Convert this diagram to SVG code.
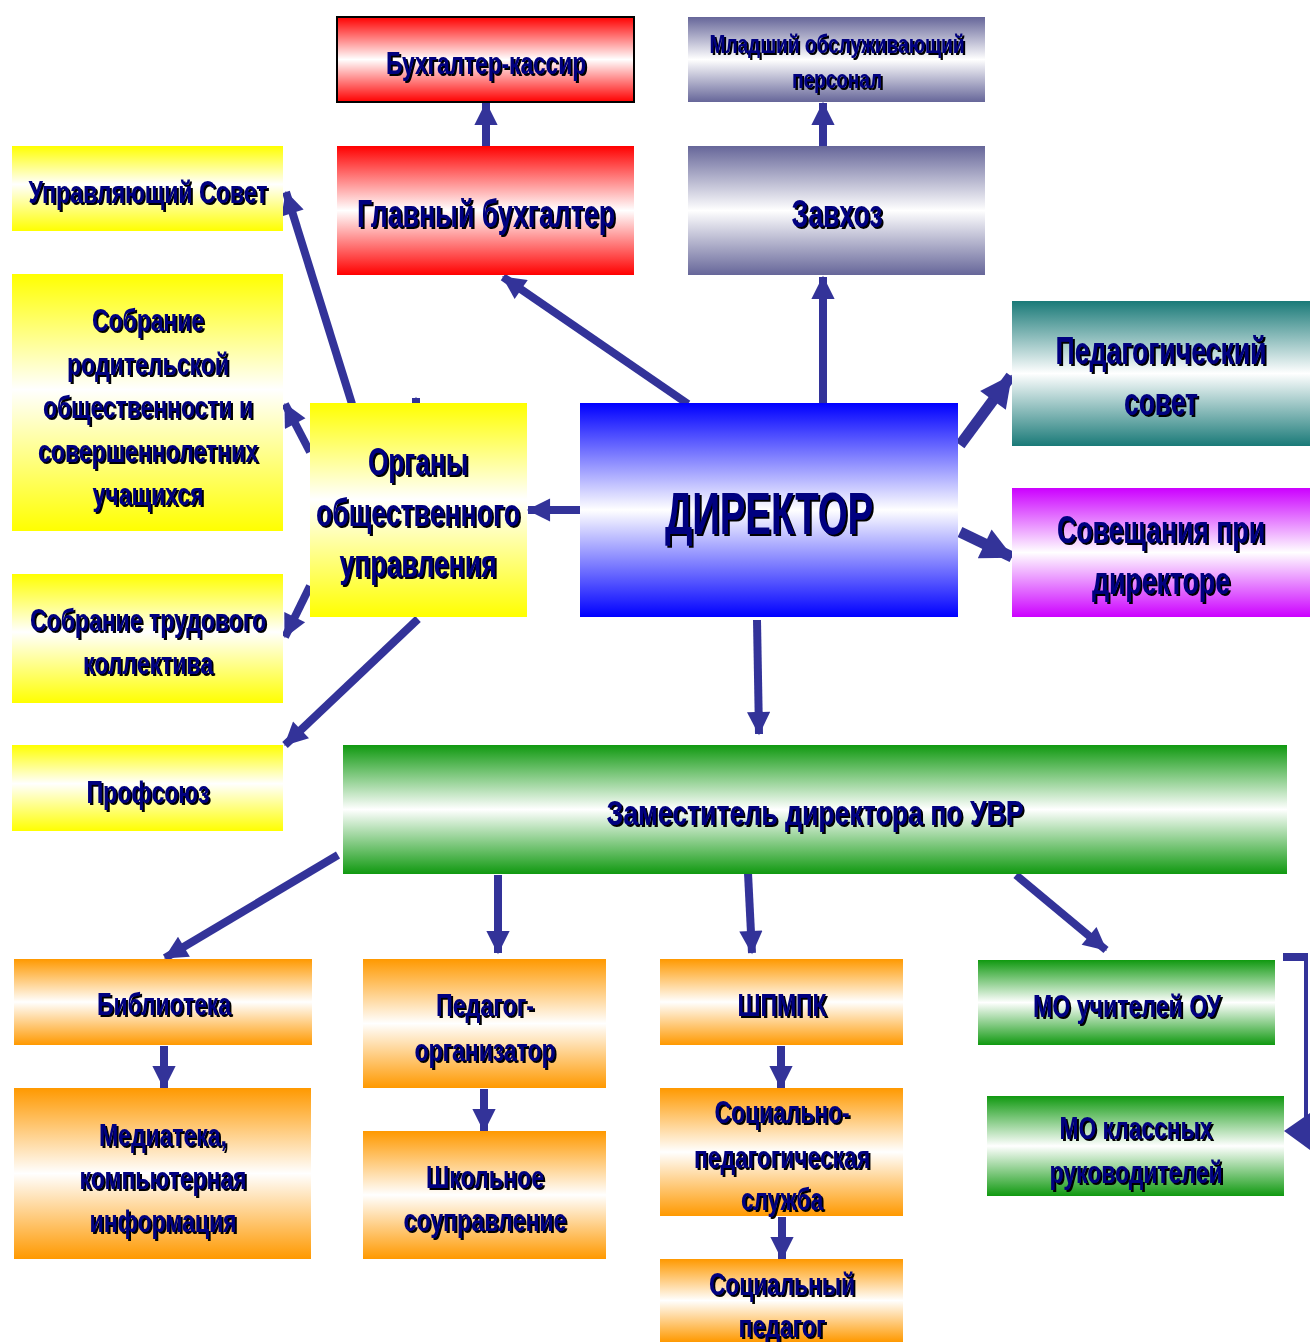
<svg xmlns="http://www.w3.org/2000/svg" width="1310" height="1342" viewBox="0 0 1310 1342">
<defs>
<style>
.t{font-family:"Liberation Sans Narrow","Liberation Sans",Arial,sans-serif;font-weight:bold;fill:#000080;text-anchor:middle;filter:url(#sh)}
.c{stroke:#333399;stroke-width:8;fill:none;marker-end:url(#ah)}
.w{stroke-width:11}
.h{fill:#333399}
</style>
<filter id="sh" x="-20%" y="-40%" width="140%" height="180%"><feDropShadow dx="2" dy="2" stdDeviation="0" flood-color="#000000" flood-opacity="1"/></filter>
<marker id="ah" viewBox="0 0 10 10" refX="9.5" refY="5" markerWidth="4.4" markerHeight="2.9" orient="auto" markerUnits="strokeWidth"><path d="M0,0 L10,5 L0,10 z" fill="#333399"/></marker>
<linearGradient id="gRed" x1="0" y1="0" x2="0" y2="1"><stop offset="0" stop-color="#ff0000"/><stop offset="0.5" stop-color="#ffffff"/><stop offset="1" stop-color="#ff0000"/></linearGradient>
<linearGradient id="gSlate" x1="0" y1="0" x2="0" y2="1"><stop offset="0" stop-color="#666699"/><stop offset="0.5" stop-color="#ffffff"/><stop offset="1" stop-color="#666699"/></linearGradient>
<linearGradient id="gYel" x1="0" y1="0" x2="0" y2="1"><stop offset="0" stop-color="#ffff00"/><stop offset="0.45" stop-color="#ffffff"/><stop offset="1" stop-color="#ffff00"/></linearGradient>
<linearGradient id="gBlue" x1="0" y1="0" x2="0" y2="1"><stop offset="0" stop-color="#0000ff"/><stop offset="0.5" stop-color="#ffffff"/><stop offset="1" stop-color="#0000ff"/></linearGradient>
<linearGradient id="gTeal" x1="0" y1="0" x2="0" y2="1"><stop offset="0" stop-color="#1a7a78"/><stop offset="0.5" stop-color="#ffffff"/><stop offset="1" stop-color="#1a7a78"/></linearGradient>
<linearGradient id="gMag" x1="0" y1="0" x2="0" y2="1"><stop offset="0" stop-color="#cc00ff"/><stop offset="0.5" stop-color="#ffffff"/><stop offset="1" stop-color="#cc00ff"/></linearGradient>
<linearGradient id="gGreen" x1="0" y1="0" x2="0" y2="1"><stop offset="0" stop-color="#109910"/><stop offset="0.5" stop-color="#ffffff"/><stop offset="1" stop-color="#109910"/></linearGradient>
<linearGradient id="gOr" x1="0" y1="0" x2="0" y2="1"><stop offset="0" stop-color="#ff9900"/><stop offset="0.5" stop-color="#ffffff"/><stop offset="1" stop-color="#ff9900"/></linearGradient>
</defs>
<rect width="1310" height="1342" fill="#ffffff"/>

<g id="connectors">
<line class="c" x1="486" y1="146" x2="486" y2="103"/>
<line class="c" x1="823" y1="146" x2="823" y2="103"/>
<line class="c" x1="688" y1="404" x2="503" y2="277"/>
<line class="c" x1="823" y1="403" x2="823" y2="277"/>
<line class="c w" x1="960" y1="445" x2="1011" y2="376"/>
<line class="c w" x1="960" y1="532" x2="1012" y2="557"/>
<line class="c" x1="580" y1="510" x2="528" y2="510"/>
<line class="c" x1="757" y1="620" x2="759" y2="734"/>
<line class="c" x1="416" y1="450" x2="416" y2="398"/>
<line class="c" x1="352" y1="404" x2="286" y2="192"/>
<line class="c" x1="310" y1="452" x2="285" y2="404"/>
<line class="c" x1="310" y1="586" x2="285" y2="637"/>
<line class="c" x1="418" y1="619" x2="285" y2="745"/>
<line class="c" x1="338" y1="855" x2="165" y2="958"/>
<line class="c" x1="498" y1="875" x2="498" y2="953"/>
<line class="c" x1="748" y1="873" x2="752" y2="953"/>
<line class="c" x1="1016" y1="875" x2="1106" y2="950"/>
<line class="c" x1="164" y1="1046" x2="164" y2="1088"/>
<line class="c" x1="484" y1="1089" x2="484" y2="1131"/>
<line class="c" x1="781" y1="1046" x2="781" y2="1088"/>
<line class="c" x1="782" y1="1217" x2="782" y2="1259"/>
<path d="M1283,957 H1306 V1131" stroke="#333399" stroke-width="4" fill="none"/>
<rect class="h" x="1283" y="953" width="25" height="8"/>
<path class="h" d="M1284,1131 L1310,1113 L1310,1150 z"/>
</g>

<g id="n-kassir"><rect x="337" y="17" width="297" height="85" fill="url(#gRed)" stroke="#000" stroke-width="2"/><text class="t" x="486" y="74" font-size="32" textLength="200" lengthAdjust="spacingAndGlyphs">Бухгалтер-кассир</text></g>
<g id="n-mladshiy"><rect x="688" y="17" width="297" height="85" fill="url(#gSlate)"/><text class="t" x="837" y="53" font-size="25" textLength="255" lengthAdjust="spacingAndGlyphs">Младший обслуживающий</text><text class="t" x="837" y="88" font-size="25" textLength="90" lengthAdjust="spacingAndGlyphs">персонал</text></g>
<g id="n-glavbuh"><rect x="337" y="146" width="297" height="129" fill="url(#gRed)"/><text class="t" x="486" y="227" font-size="38" textLength="258" lengthAdjust="spacingAndGlyphs">Главный бухгалтер</text></g>
<g id="n-zavhoz"><rect x="688" y="146" width="297" height="129" fill="url(#gSlate)"/><text class="t" x="837" y="227" font-size="38" textLength="91" lengthAdjust="spacingAndGlyphs">Завхоз</text></g>
<g id="n-upravsovet"><rect x="12" y="146" width="271" height="85" fill="url(#gYel)"/><text class="t" x="148" y="203" font-size="31" textLength="239" lengthAdjust="spacingAndGlyphs">Управляющий Совет</text></g>
<g id="n-sobranie-rod"><rect x="12" y="274" width="271" height="257" fill="url(#gYel)"/>
<text class="t" x="148" y="331" font-size="31" textLength="112" lengthAdjust="spacingAndGlyphs">Собрание</text>
<text class="t" x="148" y="375" font-size="31" textLength="162" lengthAdjust="spacingAndGlyphs">родительской</text>
<text class="t" x="148" y="418" font-size="31" textLength="210" lengthAdjust="spacingAndGlyphs">общественности и</text>
<text class="t" x="148" y="462" font-size="31" textLength="220" lengthAdjust="spacingAndGlyphs">совершеннолетних</text>
<text class="t" x="148" y="505" font-size="31" textLength="111" lengthAdjust="spacingAndGlyphs">учащихся</text></g>
<g id="n-organy"><rect x="310" y="403" width="217" height="214" fill="url(#gYel)"/>
<text class="t" x="418" y="475" font-size="38" textLength="100" lengthAdjust="spacingAndGlyphs">Органы</text>
<text class="t" x="418" y="526" font-size="38" textLength="204" lengthAdjust="spacingAndGlyphs">общественного</text>
<text class="t" x="418" y="577" font-size="38" textLength="157" lengthAdjust="spacingAndGlyphs">управления</text></g>
<g id="n-direktor"><rect x="580" y="403" width="378" height="214" fill="url(#gBlue)"/><text class="t" x="769" y="534" font-size="60" textLength="208" lengthAdjust="spacingAndGlyphs">ДИРЕКТОР</text></g>
<g id="n-pedsovet"><rect x="1012" y="301" width="298" height="145" fill="url(#gTeal)"/>
<text class="t" x="1161" y="364" font-size="38" textLength="211" lengthAdjust="spacingAndGlyphs">Педагогический</text>
<text class="t" x="1161" y="415" font-size="38" textLength="74" lengthAdjust="spacingAndGlyphs">совет</text></g>
<g id="n-soveshch"><rect x="1012" y="488" width="298" height="129" fill="url(#gMag)"/>
<text class="t" x="1161" y="543" font-size="38" textLength="208" lengthAdjust="spacingAndGlyphs">Совещания при</text>
<text class="t" x="1161" y="594" font-size="38" textLength="138" lengthAdjust="spacingAndGlyphs">директоре</text></g>
<g id="n-trud"><rect x="12" y="574" width="271" height="129" fill="url(#gYel)"/>
<text class="t" x="148" y="631" font-size="31" textLength="236" lengthAdjust="spacingAndGlyphs">Собрание трудового</text>
<text class="t" x="148" y="674" font-size="31" textLength="130" lengthAdjust="spacingAndGlyphs">коллектива</text></g>
<g id="n-profsoyuz"><rect x="12" y="745" width="271" height="86" fill="url(#gYel)"/><text class="t" x="148" y="803" font-size="31" textLength="123" lengthAdjust="spacingAndGlyphs">Профсоюз</text></g>
<g id="n-zam"><rect x="343" y="745" width="944" height="129" fill="url(#gGreen)"/><text class="t" x="815" y="825" font-size="35" textLength="417" lengthAdjust="spacingAndGlyphs">Заместитель директора по УВР</text></g>
<g id="n-biblioteka"><rect x="14" y="959" width="298" height="86" fill="url(#gOr)"/><text class="t" x="164" y="1015" font-size="31" textLength="134" lengthAdjust="spacingAndGlyphs">Библиотека</text></g>
<g id="n-mediateka"><rect x="14" y="1088" width="297" height="171" fill="url(#gOr)"/>
<text class="t" x="163" y="1146" font-size="31" textLength="128" lengthAdjust="spacingAndGlyphs">Медиатека,</text>
<text class="t" x="163" y="1189" font-size="31" textLength="167" lengthAdjust="spacingAndGlyphs">компьютерная</text>
<text class="t" x="163" y="1232" font-size="31" textLength="147" lengthAdjust="spacingAndGlyphs">информация</text></g>
<g id="n-pedorg"><rect x="363" y="959" width="243" height="129" fill="url(#gOr)"/>
<text class="t" x="485" y="1016" font-size="31" textLength="98" lengthAdjust="spacingAndGlyphs">Педагог-</text>
<text class="t" x="485" y="1061" font-size="31" textLength="141" lengthAdjust="spacingAndGlyphs">организатор</text></g>
<g id="n-shkolnoe"><rect x="363" y="1131" width="243" height="128" fill="url(#gOr)"/>
<text class="t" x="485" y="1188" font-size="31" textLength="118" lengthAdjust="spacingAndGlyphs">Школьное</text>
<text class="t" x="485" y="1231" font-size="31" textLength="163" lengthAdjust="spacingAndGlyphs">соуправление</text></g>
<g id="n-shpmpk"><rect x="660" y="959" width="243" height="86" fill="url(#gOr)"/><text class="t" x="782" y="1016" font-size="31" textLength="89" lengthAdjust="spacingAndGlyphs">ШПМПК</text></g>
<g id="n-socped-sl"><rect x="660" y="1088" width="243" height="128" fill="url(#gOr)"/>
<text class="t" x="782" y="1123" font-size="31" textLength="135" lengthAdjust="spacingAndGlyphs">Социально-</text>
<text class="t" x="782" y="1168" font-size="31" textLength="176" lengthAdjust="spacingAndGlyphs">педагогическая</text>
<text class="t" x="782" y="1210" font-size="31" textLength="82" lengthAdjust="spacingAndGlyphs">служба</text></g>
<g id="n-socped"><rect x="660" y="1259" width="243" height="83" fill="url(#gOr)"/>
<text class="t" x="782" y="1295" font-size="31" textLength="146" lengthAdjust="spacingAndGlyphs">Социальный</text>
<text class="t" x="782" y="1337" font-size="31" textLength="87" lengthAdjust="spacingAndGlyphs">педагог</text></g>
<g id="n-mo-uch"><rect x="978" y="960" width="297" height="85" fill="url(#gGreen)"/><text class="t" x="1127" y="1017" font-size="31" textLength="188" lengthAdjust="spacingAndGlyphs">МО учителей ОУ</text></g>
<g id="n-mo-kl"><rect x="987" y="1096" width="297" height="100" fill="url(#gGreen)"/>
<text class="t" x="1136" y="1139" font-size="31" textLength="153" lengthAdjust="spacingAndGlyphs">МО классных</text>
<text class="t" x="1136" y="1183" font-size="31" textLength="173" lengthAdjust="spacingAndGlyphs">руководителей</text></g>
</svg>
